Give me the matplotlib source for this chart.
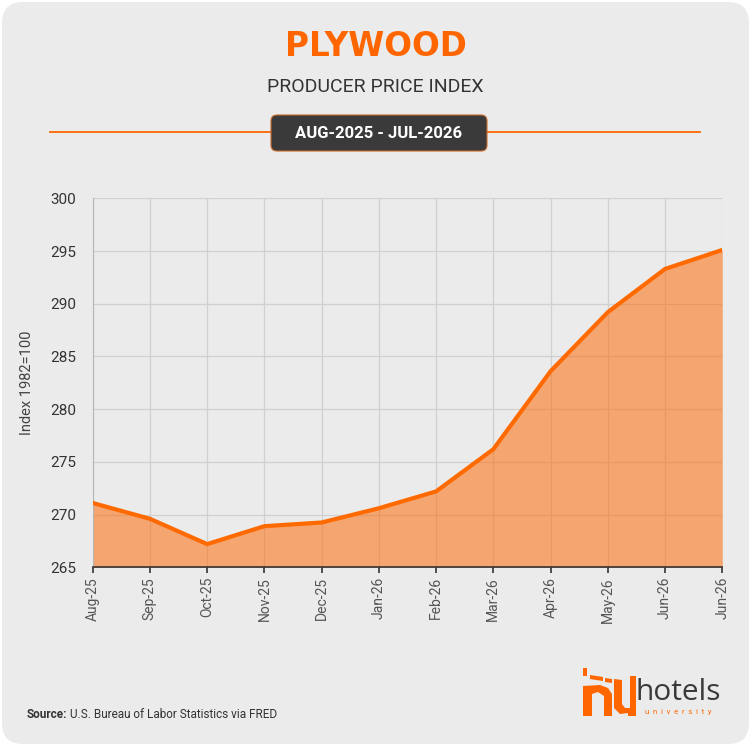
import matplotlib.pyplot as plt
from matplotlib.patches import FancyBboxPatch, Polygon

# Data
months = ['Aug-25', 'Sep-25', 'Oct-25', 'Nov-25', 'Dec-25', 'Jan-26',
          'Feb-26', 'Mar-26', 'Apr-26', 'May-26', 'Jun-26', 'Jun-26']
index_values = [271.1, 269.6, 267.2, 268.9, 269.25, 270.6,
                272.2, 276.2, 283.6, 289.2, 293.3, 295.1]
y_ticks = [265, 270, 275, 280, 285, 290, 295, 300]

W, H = 751, 746
ORANGE = '#ff6600'
BG = '#ebebeb'

plt.rcParams['font.family'] = ['Roboto', 'DejaVu Sans']

fig = plt.figure(figsize=(W / 100, H / 100), dpi=100, facecolor='white')


def fx(px):
    return px / W


def fy(py):
    return 1 - py / H


# rounded card background
card = FancyBboxPatch((fx(2), fy(744)), fx(747), 742 / H,
                      boxstyle='round,pad=0,rounding_size=0.028',
                      transform=fig.transFigure, facecolor=BG, edgecolor='none',
                      zorder=-10)
fig.patches.append(card)

# titles
fig.text(0.5, fy(47), 'PLYWOOD', ha='center', va='center', fontsize=23.5,
         fontweight='black', color=ORANGE, family=['DejaVu Sans'])
fig.text(0.5, fy(87), 'PRODUCER PRICE INDEX', ha='center', va='center',
         fontsize=14, color='#333333')

# divider line and date badge
fig.add_artist(plt.Line2D([fx(50), fx(700)], [fy(132), fy(132)],
                          transform=fig.transFigure, color=ORANGE, lw=1.3))
badge = FancyBboxPatch((fx(271), fy(151)), fx(216), 36 / H,
                       boxstyle='round,pad=0,rounding_size=0.008',
                       transform=fig.transFigure, facecolor='#3a3a3a',
                       edgecolor='#c8682a', lw=0.8, zorder=5)
fig.patches.append(badge)
fig.text(fx(379), fy(133), 'AUG-2025 - JUL-2026', ha='center', va='center',
         fontsize=12, fontweight='bold', color='white', zorder=6)

# main chart
ax = fig.add_axes([fx(92.7), fy(567.3), fx(629.6), (567.3 - 198.3) / H])
ax.set_facecolor('none')
x = list(range(len(months)))
ax.fill_between(x, index_values, 265, color=ORANGE, alpha=0.52, lw=0, zorder=2)
ax.plot(x, index_values, color='#ff6a00', lw=3, solid_joinstyle='round', zorder=3)

ax.set_xlim(0, len(months) - 1)
ax.set_ylim(265, 300)
ax.set_yticks(y_ticks)
ax.set_xticks(x)
ax.set_xticklabels(months, rotation=90, fontsize=10, color='#555555')
ax.tick_params(axis='y', length=0, pad=12, labelsize=11, labelcolor='#333333')
ax.tick_params(axis='x', length=4, width=1.2, color='#333333', pad=3)
ax.grid(True, color='#d0d0d0', lw=0.9, zorder=1)
ax.set_axisbelow(True)
for side in ['top', 'right']:
    ax.spines[side].set_visible(False)
ax.spines['left'].set_color('#b5b5b5')
ax.spines['bottom'].set_color('#333333')
ax.spines['bottom'].set_linewidth(1.2)
ax.spines['bottom'].set_zorder(4)
ax.set_ylabel('Index 1982=100', fontsize=10.5, color='#444444')
ax.yaxis.set_label_coords((34 - 92.7) / 629.6, 0.5)

# source note
fig.text(fx(27), fy(714), 'Source:', ha='left', va='center', fontsize=8.5,
         fontweight='bold', color='#333333')
fig.text(fx(70), fy(714), 'U.S. Bureau of Labor Statistics via FRED', ha='left',
         va='center', fontsize=8.5, color='#333333')


# logo (rough shapes)
def poly(pts, color=ORANGE):
    fig.patches.append(Polygon([(fx(a), fy(b)) for a, b in pts], closed=True,
                               transform=fig.transFigure, facecolor=color,
                               edgecolor='none'))


poly([(583, 668), (587, 668), (587, 676), (583, 676)])
poly([(590, 675), (603, 677), (603, 681), (590, 679)])
poly([(605, 678), (612, 679), (612, 683), (605, 682)])
poly([(583, 686), (600, 685), (608, 688), (612, 694), (612, 716),
      (604, 716), (604, 696), (598, 692), (592, 694), (592, 716), (583, 716)])
poly([(614, 679), (622, 680), (622, 704), (625, 708), (630, 708), (630, 676),
      (636, 676), (636, 716), (628, 716), (628, 713), (620, 714), (614, 708)])
fig.text(fx(636), fy(693), 'hotels', ha='left', va='center', fontsize=21.5,
         color='#3a3a3a', family=['Open Sans', 'DejaVu Sans'])
fig.text(fx(645), fy(712), 'u  n  i  v  e  r  s  i  t  y', ha='left', va='center',
         fontsize=5.5, color=ORANGE)

fig.savefig('out.png', dpi=100, facecolor=fig.get_facecolor())
